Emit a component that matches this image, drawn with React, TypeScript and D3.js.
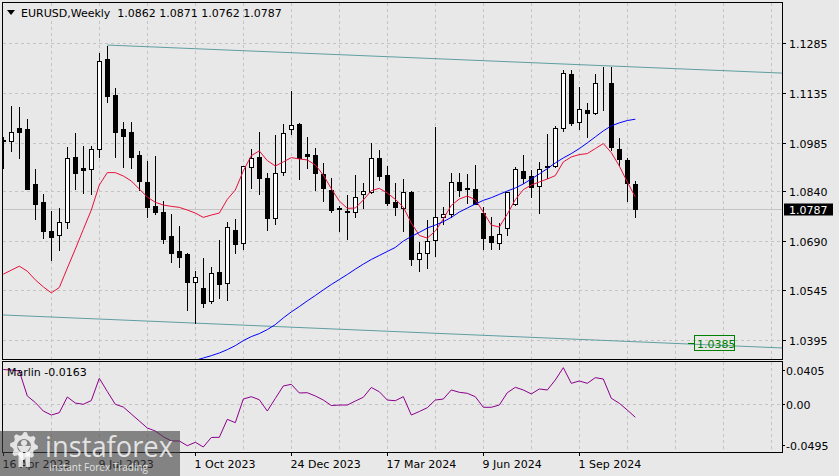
import React, { useRef, useEffect } from "react";
import * as d3 from "d3";

const W = 839;
const H = 476;
const FONT = "'DejaVu Sans', Verdana, sans-serif";

// weekly EURUSD candles, week of 16 Apr 2023 .. week of 20 Oct 2024
const opens = [
  1.0993, 1.099, 1.103, 1.1027, 1.0862, 1.0808, 1.0721, 1.071, 1.0747, 1.0942,
  1.0911, 1.0907, 1.0966, 1.1236, 1.1128, 1.1028, 1.1018, 1.0949, 1.0868, 1.0796,
  1.0778, 1.0706, 1.0661, 1.0651, 1.0569, 1.0551, 1.0513, 1.0598, 1.0565, 1.0724,
  1.0684, 1.0912, 1.0942, 1.0881, 1.0759, 1.0899, 1.1028, 1.1042, 1.0952, 1.0949,
  1.0892, 1.0844, 1.0791, 1.0782, 1.0777, 1.0833, 1.0837, 1.0939, 1.0889, 1.0808,
  1.0789, 1.0838, 1.0636, 1.0654, 1.0693, 1.0762, 1.0771, 1.0869, 1.0848, 1.0846,
  1.0774, 1.0706, 1.0686, 1.0729, 1.0801, 1.0901, 1.0887, 1.0857, 1.0912, 1.0917,
  1.1031, 1.1191, 1.1049, 1.1084, 1.1076, 1.1163, 1.1163, 1.0967, 1.0935, 1.0862,
];
const highs = [
  1.1002, 1.1095, 1.1093, 1.1056, 1.0907, 1.0832, 1.0782, 1.079, 1.0972, 1.1014,
  1.0976, 1.0976, 1.1253, 1.1276, 1.1149, 1.1047, 1.1047, 1.0961, 1.0931, 1.0945,
  1.0811, 1.0772, 1.0736, 1.0655, 1.06, 1.064, 1.0614, 1.0694, 1.0747, 1.0756,
  1.0916, 1.0966, 1.1017, 1.0894, 1.1009, 1.1041, 1.114, 1.1046, 1.1002, 1.0969,
  1.0925, 1.088, 1.0796, 1.083, 1.0889, 1.0865, 1.0986, 1.0964, 1.0915, 1.0864,
  1.0877, 1.084, 1.0689, 1.0754, 1.1034, 1.0792, 1.0896, 1.0894, 1.0892, 1.0919,
  1.0794, 1.0762, 1.0744, 1.0839, 1.0914, 1.0949, 1.0904, 1.0927, 1.1012, 1.1036,
  1.1203, 1.1203, 1.1153, 1.1104, 1.119, 1.1213, 1.1213, 1.1001, 1.094, 1.0871,
];
const lows = [
  1.0909, 1.0962, 1.0941, 1.0848, 1.0758, 1.0701, 1.0635, 1.0665, 1.0731, 1.0846,
  1.0834, 1.0832, 1.0944, 1.1108, 1.0944, 1.0912, 1.0911, 1.0844, 1.0764, 1.0771,
  1.0686, 1.0629, 1.0614, 1.0485, 1.0445, 1.0493, 1.0505, 1.052, 1.0515, 1.0656,
  1.0666, 1.0851, 1.0831, 1.0724, 1.0741, 1.0889, 1.1011, 1.0876, 1.0911, 1.0844,
  1.0812, 1.0779, 1.0722, 1.0697, 1.0764, 1.079, 1.0836, 1.0874, 1.08, 1.0769,
  1.0722, 1.0619, 1.06, 1.061, 1.0646, 1.0741, 1.0764, 1.0825, 1.0804, 1.0801,
  1.0667, 1.0667, 1.0667, 1.0708, 1.0799, 1.0865, 1.0824, 1.0776, 1.088, 1.0914,
  1.102, 1.104, 1.1026, 1.1004, 1.1071, 1.1084, 1.0963, 1.0918, 1.0811, 1.0762,
];
const closes = [
  1.099, 1.1017, 1.1019, 1.0848, 1.0803, 1.0722, 1.0704, 1.0748, 1.0939, 1.0894,
  1.0905, 1.0966, 1.123, 1.1125, 1.1017, 1.1007, 1.0944, 1.0872, 1.0794, 1.0777,
  1.0698, 1.0656, 1.0644, 1.0569, 1.0584, 1.0507, 1.0595, 1.0563, 1.0733, 1.0682,
  1.0916, 1.0939, 1.0881, 1.0761, 1.0894, 1.1016, 1.1038, 1.0939, 1.0946, 1.0896,
  1.0851, 1.0784, 1.0787, 1.0777, 1.0822, 1.084, 1.0939, 1.0887, 1.0806, 1.0794,
  1.0837, 1.0638, 1.0654, 1.0692, 1.0762, 1.0771, 1.0869, 1.0845, 1.085, 1.0801,
  1.0701, 1.0689, 1.0712, 1.0839, 1.0906, 1.0881, 1.0854, 1.0908, 1.0917, 1.1029,
  1.1195, 1.1046, 1.1086, 1.1076, 1.1163, 1.1164, 1.0974, 1.0936, 1.0866, 1.0787,
];

// red moving average, one value per bar
const fastMa = [
  1.0592, 1.0604, 1.0616, 1.0601, 1.0575, 1.0554, 1.0536, 1.0552, 1.061, 1.0667,
  1.0726, 1.0784, 1.0859, 1.0896, 1.0896, 1.0886, 1.0871, 1.0847, 1.0823, 1.0807,
  1.0799, 1.0795, 1.0792, 1.0784, 1.0775, 1.0762, 1.0769, 1.0775, 1.0816, 1.0844,
  1.0901, 1.0947, 1.0961, 1.0932, 1.0916, 1.0928, 1.0941, 1.0937, 1.0934, 1.0919,
  1.0889, 1.0848, 1.0811, 1.0789, 1.079, 1.0814, 1.0842, 1.0849, 1.0835, 1.0816,
  1.0793, 1.0745, 1.0708, 1.07, 1.0721, 1.0757, 1.0798, 1.0817, 1.0826, 1.0815,
  1.0778, 1.0739, 1.0733, 1.0772, 1.0815, 1.0845, 1.0859, 1.0868, 1.0877, 1.0887,
  1.0928, 1.0943, 1.095, 1.0953, 1.0968, 1.0983, 1.0956, 1.0916, 1.0868, 1.0823,
];

// blue moving average, starts at bar 24
const slowStart = 24;
const slowMa = [
  1.0334, 1.0341, 1.0348, 1.0356, 1.0366, 1.0378, 1.0393, 1.0405, 1.0414, 1.0426,
  1.0441, 1.0461, 1.0479, 1.0495, 1.0512, 1.0528, 1.0545, 1.0561, 1.0576, 1.0591,
  1.0607, 1.0622, 1.0636, 1.0648, 1.066, 1.0672, 1.0691, 1.0705, 1.0717, 1.073,
  1.0739, 1.0749, 1.0762, 1.0778, 1.079, 1.0802, 1.0813, 1.0821, 1.0831, 1.0841,
  1.085, 1.0862, 1.0877, 1.0892, 1.0908, 1.0925, 1.094, 1.0953, 1.0968, 1.0985,
  1.1003, 1.1021, 1.1036, 1.1045, 1.1052, 1.1056,
];

// Marlin oscillator
const marlin = [
  0.0411, 0.0405, 0.0393, 0.0093, 0.0014, -0.0088, -0.0136, -0.0108, 0.0081, 0.0008,
  -0.0007, 0.0038, 0.0305, 0.0147, -0.0007, -0.004, -0.0124, -0.0208, -0.0292, -0.0328,
  -0.0397, -0.0448, -0.0448, -0.0505, -0.0464, -0.052, -0.0406, -0.0404, -0.0188, -0.0228,
  0.0056, 0.0084, 0.0048, -0.0088, 0.0063, 0.0213, 0.0233, 0.0129, 0.0132, 0.0093,
  0.0044, -0.0022, -0.0016, -0.0016, 0.0032, 0.0077, 0.0195, 0.0144, 0.0044, 0.0036,
  0.0084, -0.0136, -0.0094, -0.0048, 0.0044, 0.0056, 0.0165, 0.0137, 0.0125, 0.0084,
  -0.0043, -0.0043, -0.0016, 0.0132, 0.0197, 0.0165, 0.0117, 0.0177, 0.0165, 0.0285,
  0.0433, 0.0245, 0.0273, 0.0245, 0.0313, 0.0297, 0.0065, 0.0005, -0.0076, -0.0163,
];

const priceTicks = [1.1285, 1.1135, 1.0985, 1.084, 1.069, 1.0545, 1.0395];
const marlinTicks = [0.0405, 0, -0.0495];
const marlinTickLabels = ["0.0405", "0.00", "-0.0495"];
const timeLabels = ["16 Apr 2023", "9 Jul 2023", "1 Oct 2023", "24 Dec 2023", "17 Mar 2024", "9 Jun 2024", "1 Sep 2024"];
const timeLabelBars = [0, 12, 24, 36, 48, 60, 72];
const lastPrice = 1.0787;

// channel trend lines: [bar, price]
const upperChannel: [number, number][] = [[13, 1.1278], [97.4, 1.1194]];
const lowerChannel: [number, number][] = [[-0.2, 1.047], [97.4, 1.0371]];
const channelLabel = "1.0385";

const App: React.FC = () => {
  const svgRef = useRef<SVGSVGElement>(null);

  useEffect(() => {
    if (!svgRef.current) return;
    const svg = d3.select(svgRef.current);
    svg.selectAll("*").remove();

    const x = d3.scaleLinear().domain([-0.1625, 97.3375]).range([2, 782]);
    const y = d3.scaleLinear().domain([1.03371, 1.14069]).range([359.3, 2]);
    const yo = d3.scaleLinear().domain([-0.05841, 0.05096]).range([452.3, 361.3]);
    const px = (i: number) => Math.round(x(i)) + 0.5;
    const crisp = (v: number) => Math.round(v) + 0.5;

    svg.append("rect").attr("width", W).attr("height", H).attr("fill", "#e8e8e8");

    const defs = svg.append("defs");
    defs.append("clipPath").attr("id", "mainClip")
      .append("rect").attr("x", 3).attr("y", 3).attr("width", 779).attr("height", 356);
    defs.append("clipPath").attr("id", "oscClip")
      .append("rect").attr("x", 3).attr("y", 362).attr("width", 779).attr("height", 90);

    // grid
    const grid = svg.append("g").attr("stroke", "#c4c4c4").attr("stroke-dasharray", "3,3");
    priceTicks.forEach((t) => {
      grid.append("line").attr("x1", 3).attr("x2", 782).attr("y1", crisp(y(t))).attr("y2", crisp(y(t)));
    });
    grid.append("line").attr("x1", 3).attr("x2", 782).attr("y1", crisp(yo(0))).attr("y2", crisp(yo(0)));
    for (let i = 6; i <= 96; i += 6) {
      grid.append("line").attr("x1", px(i)).attr("x2", px(i)).attr("y1", 3).attr("y2", 359);
      grid.append("line").attr("x1", px(i)).attr("x2", px(i)).attr("y1", 362).attr("y2", 452);
    }

    // last price line
    svg.append("line").attr("x1", 3).attr("x2", 782)
      .attr("y1", crisp(y(lastPrice))).attr("y2", crisp(y(lastPrice)))
      .attr("stroke", "#c4c4c4");

    const main = svg.append("g").attr("clip-path", "url(#mainClip)");

    // channel lines
    const chLine = d3.line<[number, number]>().x((d) => x(d[0])).y((d) => y(d[1]));
    [upperChannel, lowerChannel].forEach((c) => {
      main.append("path").attr("d", chLine(c)).attr("fill", "none")
        .attr("stroke", "#5f9ea0").attr("stroke-width", 1);
    });

    // candles
    const bars = d3.range(opens.length).map((i) => ({
      i, o: opens[i], h: highs[i], l: lows[i], c: closes[i],
    }));
    const cg = main.selectAll("g.candle").data(bars).enter().append("g").attr("class", "candle");
    cg.append("line")
      .attr("x1", (d) => px(d.i)).attr("x2", (d) => px(d.i))
      .attr("y1", (d) => Math.round(y(d.h))).attr("y2", (d) => Math.round(y(d.l)) + 1)
      .attr("stroke", "#000");
    cg.append("rect")
      .attr("x", (d) => px(d.i) - 2)
      .attr("width", 4)
      .attr("y", (d) => crisp(y(Math.max(d.o, d.c))))
      .attr("height", (d) => Math.max(0, crisp(y(Math.min(d.o, d.c))) - crisp(y(Math.max(d.o, d.c)))))
      .attr("fill", (d) => (d.c >= d.o ? "#fff" : "#000"))
      .attr("stroke", "#000");

    // moving averages
    const maLine = d3.line<number>().x((_, i) => x(i)).y((d) => y(d));
    main.append("path").attr("d", maLine(fastMa)).attr("fill", "none")
      .attr("stroke", "#e8103c").attr("stroke-width", 1);
    const slowLine = d3.line<number>().x((_, i) => x(i + slowStart)).y((d) => y(d));
    main.append("path").attr("d", slowLine(slowMa)).attr("fill", "none")
      .attr("stroke", "#0000ff").attr("stroke-width", 1);

    // oscillator
    const osc = svg.append("g").attr("clip-path", "url(#oscClip)");
    const oscLine = d3.line<number>().x((_, i) => x(i)).y((d) => yo(d));
    osc.append("path").attr("d", oscLine(marlin)).attr("fill", "none")
      .attr("stroke", "#8b008b").attr("stroke-width", 1);

    // frames
    svg.append("rect").attr("x", 2.5).attr("y", 2.5).attr("width", 780).attr("height", 357)
      .attr("fill", "none").attr("stroke", "#000");
    svg.append("rect").attr("x", 2.5).attr("y", 361.5).attr("width", 780).attr("height", 91)
      .attr("fill", "none").attr("stroke", "#000");

    const text = (xx: number, yy: number, s: string, fill = "#000") =>
      svg.append("text").attr("x", xx).attr("y", yy).text(s)
        .attr("font-family", FONT).attr("font-size", 11).attr("fill", fill);

    // price axis
    priceTicks.forEach((t) => {
      const yy = crisp(y(t));
      svg.append("line").attr("x1", 783).attr("x2", 786).attr("y1", yy).attr("y2", yy).attr("stroke", "#000");
      text(789, yy + 4, t.toFixed(4));
    });
    const ly = crisp(y(lastPrice));
    svg.append("rect").attr("x", 784).attr("y", ly - 6).attr("width", 49).attr("height", 12).attr("fill", "#000");
    text(789, ly + 4, lastPrice.toFixed(4), "#fff");

    // oscillator axis
    marlinTicks.forEach((t, k) => {
      const yy = crisp(yo(t));
      svg.append("line").attr("x1", 783).attr("x2", 785).attr("y1", yy).attr("y2", yy).attr("stroke", "#000");
      text(786, yy + 4, marlinTickLabels[k]);
    });

    // time axis
    timeLabelBars.forEach((b, k) => {
      svg.append("line").attr("x1", px(b)).attr("x2", px(b)).attr("y1", 453).attr("y2", 456).attr("stroke", "#000");
      text(px(b) - 1, 468, timeLabels[k]);
    });

    // channel price label
    const cy = 343.5;
    svg.append("line").attr("x1", 688).attr("x2", 695).attr("y1", cy).attr("y2", cy).attr("stroke", "#008000");
    svg.append("rect").attr("x", 694.5).attr("y", 335.5).attr("width", 40).attr("height", 15)
      .attr("fill", "none").attr("stroke", "#008000");
    text(697, 347.5, channelLabel, "#008000");

    // titles
    svg.append("path").attr("d", "M7,10 L15,10 L11,15 Z").attr("fill", "#000");
    text(21, 17, "EURUSD,Weekly  1.0862 1.0871 1.0762 1.0787").attr("xml:space", "preserve");
    text(7, 376, "Marlin " + marlin[marlin.length - 1].toFixed(4));

    // watermark
    const wm = svg.append("g");
    wm.append("rect").attr("x", 0).attr("y", 431).attr("width", 180).attr("height", 45)
      .attr("fill", "rgba(64,64,64,0.6)");
    const white = "rgba(255,255,255,0.78)";
    const teeth = 8;
    const gearPts: [number, number][] = [];
    for (let k = 0; k < teeth * 4; k++) {
      const a = (k / (teeth * 4)) * Math.PI * 2;
      const r = k % 4 < 2 ? 14 : 11;
      gearPts.push([24 + r * Math.sin(a), 446 - r * Math.cos(a)]);
    }
    const hole = d3.range(24).map((k) => {
      const a = (k / 24) * Math.PI * 2;
      return [24 + 7 * Math.sin(a), 446 - 7 * Math.cos(a)] as [number, number];
    });
    const poly = (pts: [number, number][]) => "M" + pts.map((p) => p.join(",")).join("L") + "Z";
    wm.append("path").attr("d", poly(gearPts) + poly(hole.reverse()))
      .attr("fill", white).attr("fill-rule", "evenodd");
    wm.append("circle").attr("cx", 24).attr("cy", 443).attr("r", 3).attr("fill", white);
    wm.append("path").attr("d", "M17,446 L31,446 L27,452 L21,452 Z").attr("fill", white);
    wm.append("rect").attr("x", 18.5).attr("y", 452).attr("width", 4.5).attr("height", 15).attr("fill", white);
    wm.append("rect").attr("x", 25.5).attr("y", 452).attr("width", 4.5).attr("height", 15).attr("fill", white);
    wm.append("text").attr("x", 45).attr("y", 457).text("instaforex")
      .attr("font-family", "'Open Sans', sans-serif").attr("font-size", 30)
      .attr("textLength", 128).attr("lengthAdjust", "spacingAndGlyphs").attr("fill", white);
    wm.append("text").attr("x", 49).attr("y", 471).text("Instant Forex Trading")
      .attr("font-family", "'Open Sans', sans-serif").attr("font-size", 11)
      .attr("textLength", 99).attr("lengthAdjust", "spacingAndGlyphs").attr("fill", white);
  }, []);

  return (
    <svg
      ref={svgRef}
      width={W}
      height={H}
      style={{ position: "absolute", left: 0, top: 0, display: "block" }}
    />
  );
};

export default App;
